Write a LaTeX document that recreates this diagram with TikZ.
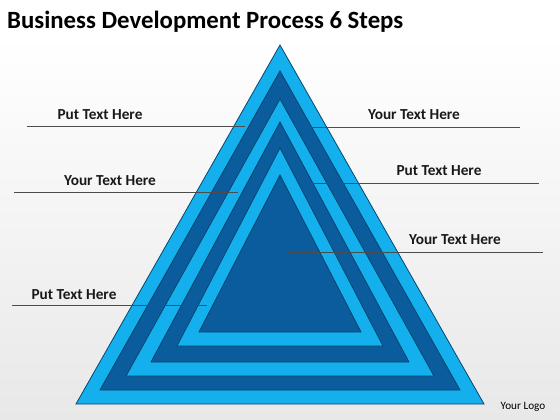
\documentclass[tikz,border=0pt]{standalone}
\usepackage{fontspec}
\setmainfont{Carlito}
\definecolor{lightblue}{HTML}{14B0EE}
\definecolor{darkblue}{HTML}{0B5C9C}
\definecolor{edgeblue}{HTML}{08456E}
\tikzstyle{lyr} = [draw=edgeblue, line width=.8pt, line join=miter]
\tikzstyle{txt} = [font=\bfseries\fontsize{15.3}{18}\selectfont, text=black!90, inner sep=0pt]
\tikzstyle{lead} = [draw=black!70, line width=.7pt]
% one layer of the pyramid: colour, apex y, base left x, base y
\newcommand{\layer}[4]{\filldraw[lyr, fill=#1] (280,#2) -- (#3,#4) -- (560-#3,#4) -- cycle;}

\begin{document}
\begin{tikzpicture}[x=1pt, y=-1pt]%
	\useasboundingbox (0,0) rectangle (560,420);%
	\shade[top color=white, bottom color=black!9] (0,36) rectangle (560,420);%
	\node[anchor=base west, inner sep=0pt, font=\bfseries\fontsize{24.8}{28}\selectfont] (title) at (7,29) {Business Development Process 6 Steps};%
	% pyramid, outside in
	\layer{lightblue}{45}{76}{404}%
	\layer{darkblue}{71}{100}{390}%
	\layer{lightblue}{99}{126}{376}%
	\layer{darkblue}{122}{151}{362}%
	\layer{lightblue}{148}{177}{346}%
	\layer{darkblue}{175}{199}{332}%
	% texts
	\node[txt] (put1) at (100,115) {Put Text Here};%
	\node[txt] (your1) at (110,181) {Your Text Here};%
	\node[txt] (put2) at (74,295) {Put Text Here};%
	\node[txt] (your2) at (414,115) {Your Text Here};%
	\node[txt] (put3) at (439,171) {Put Text Here};%
	\node[txt] (your3) at (455,240) {Your Text Here};%
	% leader lines
	\coordinate (l1a) at (27,126); \coordinate (l1b) at (245,126);%
	\coordinate (l2a) at (14,192); \coordinate (l2b) at (238,192);%
	\coordinate (l3a) at (12,305); \coordinate (l3b) at (207,305);%
	\coordinate (r1a) at (302,127); \coordinate (r1b) at (520,127);%
	\coordinate (r2a) at (308,183); \coordinate (r2b) at (539,183);%
	\coordinate (r3a) at (287,252); \coordinate (r3b) at (543,252);%
	\foreach \a/\b in {l1a/l1b, l2a/l2b, l3a/l3b, r1a/r1b, r2a/r2b, r3a/r3b}%
		\draw[lead] (\a) -- (\b);%
	\node[inner sep=0pt, font=\fontsize{11.2}{13}\selectfont] (logo) at (523,407) {Your Logo};%
\end{tikzpicture}
\end{document}
